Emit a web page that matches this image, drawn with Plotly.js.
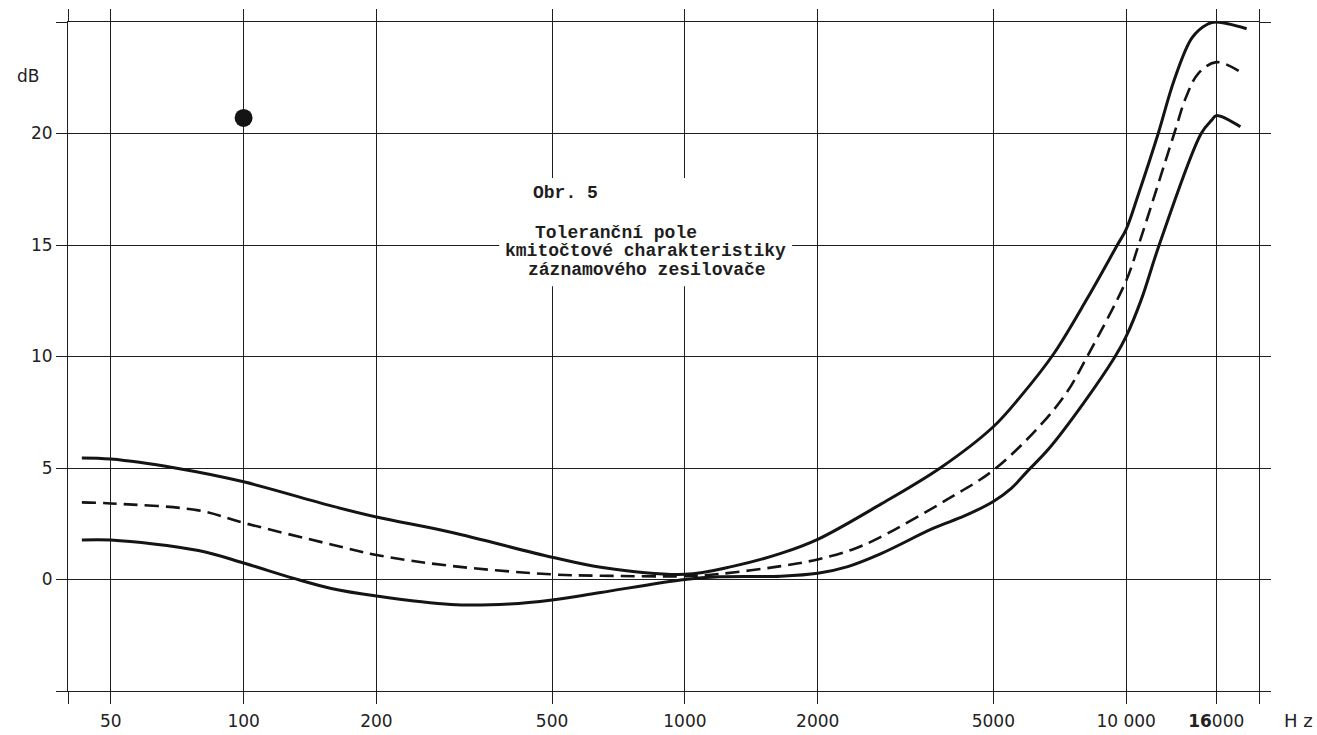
<!DOCTYPE html>
<html>
<head>
<meta charset="utf-8">
<script src="https://cdn.plot.ly/plotly-3.0.1.min.js"></script>
<style>html,body{margin:0;padding:0;background:#fff}#chart{width:1317px;height:735px}</style>
</head>
<body>
<div id="chart"></div>
<script>
// Frequency (Hz) and level (dB)
const freqUpper = [43, 50, 70, 100, 158, 200, 295, 500, 645, 1000, 1290, 1650, 2000, 2775, 3790, 5000, 5760, 6840, 8160, 9550, 10000, 10670, 11820, 12850, 14110, 15280, 16000, 18750];
const dbUpper   = [5.45, 5.4, 5.0, 4.38, 3.3, 2.8, 2.12, 1.0, 0.55, 0.23, 0.6, 1.17, 1.8, 3.37, 5.0, 6.85, 8.2, 10.1, 12.6, 15.0, 15.7, 17.3, 20.0, 22.4, 24.3, 24.9, 25.0, 24.7];

const freqMid = [43, 50, 79, 100, 158, 200, 295, 500, 645, 1000, 1200, 1650, 2000, 2400, 2775, 3940, 5000, 6380, 7340, 8160, 10000, 10670, 12850, 13650, 14580, 16000, 18030];
const dbMid   = [3.46, 3.41, 3.1, 2.54, 1.57, 1.1, 0.61, 0.23, 0.17, 0.15, 0.25, 0.6, 0.9, 1.35, 1.9, 3.6, 4.9, 6.9, 8.4, 10.0, 13.4, 15.0, 20.0, 21.6, 22.7, 23.2, 22.8];

const freqLow = [43, 50, 79, 100, 130, 158, 200, 295, 400, 500, 645, 1000, 1200, 1650, 2000, 2340, 2775, 3660, 4300, 5000, 5500, 5970, 6670, 8000, 9440, 10000, 10820, 11880, 14790, 15630, 16000, 18150];
const dbLow   = [1.77, 1.77, 1.3, 0.74, 0.05, -0.4, -0.74, -1.12, -1.1, -0.92, -0.58, 0.0, 0.12, 0.15, 0.28, 0.58, 1.15, 2.3, 2.85, 3.5, 4.1, 4.85, 5.85, 7.9, 10.0, 10.9, 12.55, 15.0, 20.0, 20.6, 20.8, 20.3];

// ink blot on the original sheet
const blotX = [100];
const blotY = [20.7];

const xTickVals = [40, 50, 100, 200, 500, 1000, 2000, 5000, 10000, 16000, 20000];
const xTickText = ['', '50', '100', '200', '500', '1000', '2000', '5000', '10 000', '<b>16</b>000', ''];
const yTickVals = [-5, 0, 5, 10, 15, 20, 25];
const yTickText = ['', '0', '5', '10', '15', '20', ''];

const captionLines = ['Obr. 5', 'Toleranční pole', 'kmitočtové charakteristiky', 'záznamového zesilovače'];

const ink = '#141414';
const gridC = '#1e1e1e';

const traces = [
  {x: freqUpper, y: dbUpper, mode: 'lines', line: {color: ink, width: 3, shape: 'spline', smoothing: 1}, hoverinfo: 'skip'},
  {x: freqMid, y: dbMid, mode: 'lines', line: {color: ink, width: 2.6, shape: 'spline', smoothing: 1, dash: '14px,7px'}, hoverinfo: 'skip'},
  {x: freqLow, y: dbLow, mode: 'lines', line: {color: ink, width: 3, shape: 'spline', smoothing: 1}, hoverinfo: 'skip'},
  {x: blotX, y: blotY, mode: 'markers', marker: {color: ink, size: 18, symbol: 'circle'}, hoverinfo: 'skip'}
];

const capX = [0.418, 0.460, 0.4845, 0.486];
const capY = [0.744, 0.684, 0.657, 0.630];
const capFont = {family: 'Liberation Mono, Courier New, monospace', size: 18, color: '#1e1e1e', weight: 'bold'};
const annotations = captionLines.map((t, i) => ({
  text: t, xref: 'paper', yref: 'paper', x: capX[i], y: capY[i],
  xanchor: 'center', yanchor: 'middle', showarrow: false, font: capFont
}));
annotations.push({text: 'dB', xref: 'paper', yref: 'y', x: -0.034, y: 22.6, xanchor: 'center', yanchor: 'middle', showarrow: false,
  font: {family: 'DejaVu Sans, sans-serif', size: 17, color: '#222'}});
annotations.push({text: 'H z', xref: 'paper', yref: 'paper', x: 1.033, y: -0.044, xanchor: 'center', yanchor: 'middle', showarrow: false,
  font: {family: 'DejaVu Sans, sans-serif', size: 18, color: '#222'}});

// white label area behind the caption (the grid is interrupted there)
const shapes = [{
  type: 'rect', xref: 'paper', yref: 'paper', x0: 0.362, x1: 0.608, y0: 0.605, y1: 0.767,
  fillcolor: '#ffffff', line: {width: 0}, layer: 'above'
}];

const layout = {
  width: 1317, height: 735,
  margin: {l: 68, r: 58, t: 22, b: 44},
  paper_bgcolor: '#fff', plot_bgcolor: '#fff',
  showlegend: false,
  font: {family: 'DejaVu Sans, sans-serif', size: 17, color: '#222'},
  xaxis: {
    type: 'log', range: [Math.log10(40), Math.log10(20000)],
    tickmode: 'array', tickvals: xTickVals, ticktext: xTickText,
    ticks: 'outside', ticklen: 12, tickwidth: 1, tickcolor: gridC,
    showgrid: true, gridcolor: gridC, gridwidth: 1,
    showline: true, linecolor: gridC, linewidth: 1, mirror: 'ticks',
    zeroline: false, tickfont: {size: 17}, ticklabelstandoff: 3
  },
  yaxis: {
    range: [-5, 25],
    tickmode: 'array', tickvals: yTickVals, ticktext: yTickText,
    ticks: 'outside', ticklen: 11, tickwidth: 1, tickcolor: gridC,
    showgrid: true, gridcolor: gridC, gridwidth: 1,
    showline: true, linecolor: gridC, linewidth: 1, mirror: 'ticks',
    zeroline: false, tickfont: {size: 17}
  },
  shapes: shapes,
  annotations: annotations
};

Plotly.newPlot('chart', traces, layout, {displayModeBar: false, staticPlot: true});
</script>
</body>
</html>
